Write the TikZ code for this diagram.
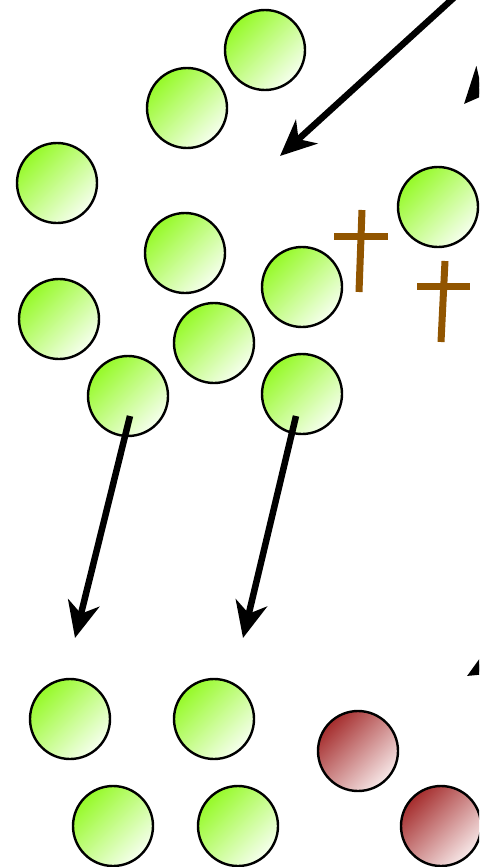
\documentclass[tikz,border=0pt]{standalone}
\usetikzlibrary{arrows.meta,calc}
\definecolor{leafdark}{RGB}{150,250,40}
\definecolor{leaflight}{RGB}{246,255,238}
\definecolor{rustdark}{RGB}{165,45,45}
\definecolor{rustlight}{RGB}{247,232,232}
\definecolor{crossbrown}{RGB}{145,85,0}
\tikzset{
  cell/.style={circle, draw=black, line width=2.4pt, minimum size=80pt, inner sep=0pt,
    top color=leafdark, bottom color=leaflight, shading angle=45},
  deadcell/.style={cell, top color=rustdark, bottom color=rustlight, shading angle=45},
  move/.style={line width=6.5pt, -{Stealth[length=36pt, width=32pt, inset=11pt]}},
  beam/.style={crossbrown, line width=7pt}
}
\begin{document}
\begin{tikzpicture}[x=1pt, y=-1pt]
\useasboundingbox (0,0) rectangle (479,867);
\clip (0,0) rectangle (479,867);

% living cells
\node[cell] (c1)  at (265,50)  {};
\node[cell] (c2)  at (187,108) {};
\node[cell] (c3)  at (57,183)  {};
\node[cell] (c4)  at (185,253) {};
\node[cell] (c5)  at (438,207) {};
\node[cell] (c6)  at (302,287) {};
\node[cell] (c7)  at (59,319)  {};
\node[cell] (c8)  at (214,343) {};
\node[cell] (c9)  at (128,396) {};
\node[cell] (c10) at (302,394) {};
\node[cell] (c11) at (70,719)  {};
\node[cell] (c12) at (214,719) {};
\node[cell] (c13) at (113,826) {};
\node[cell] (c14) at (238,826) {};

% dying cells
\node[deadcell] (d1) at (358,751) {};
\node[deadcell] (d2) at (441,826) {};

% crosses
\draw[beam] (362,210) -- (359,292);
\draw[beam] (334,236) -- (388,236);
\draw[beam] (445,261) -- (441,342);
\draw[beam] (417,286) -- (470,286);

% movement arrows
\coordinate (inTop)   at (470,-17);
\coordinate (inTopEnd) at (280,156);
\coordinate (inRight) at (531,30);
\coordinate (inRightEnd) at (464,104);
\coordinate (inLow)   at (554,626);
\coordinate (inLowEnd) at (467,676);
\coordinate (tailA) at ($(c9)+(2,20)$);
\coordinate (headA) at (75,638);
\coordinate (tailB) at ($(c10)+(-6,22)$);
\coordinate (headB) at (243,638);

\draw[move] (inTop) -- (inTopEnd);
\draw[move] (inRight) -- (inRightEnd);
\draw[move] (inLow) -- (inLowEnd);
\draw[move] (tailA) -- (headA);
\draw[move] (tailB) -- (headB);
\end{tikzpicture}
\end{document}
